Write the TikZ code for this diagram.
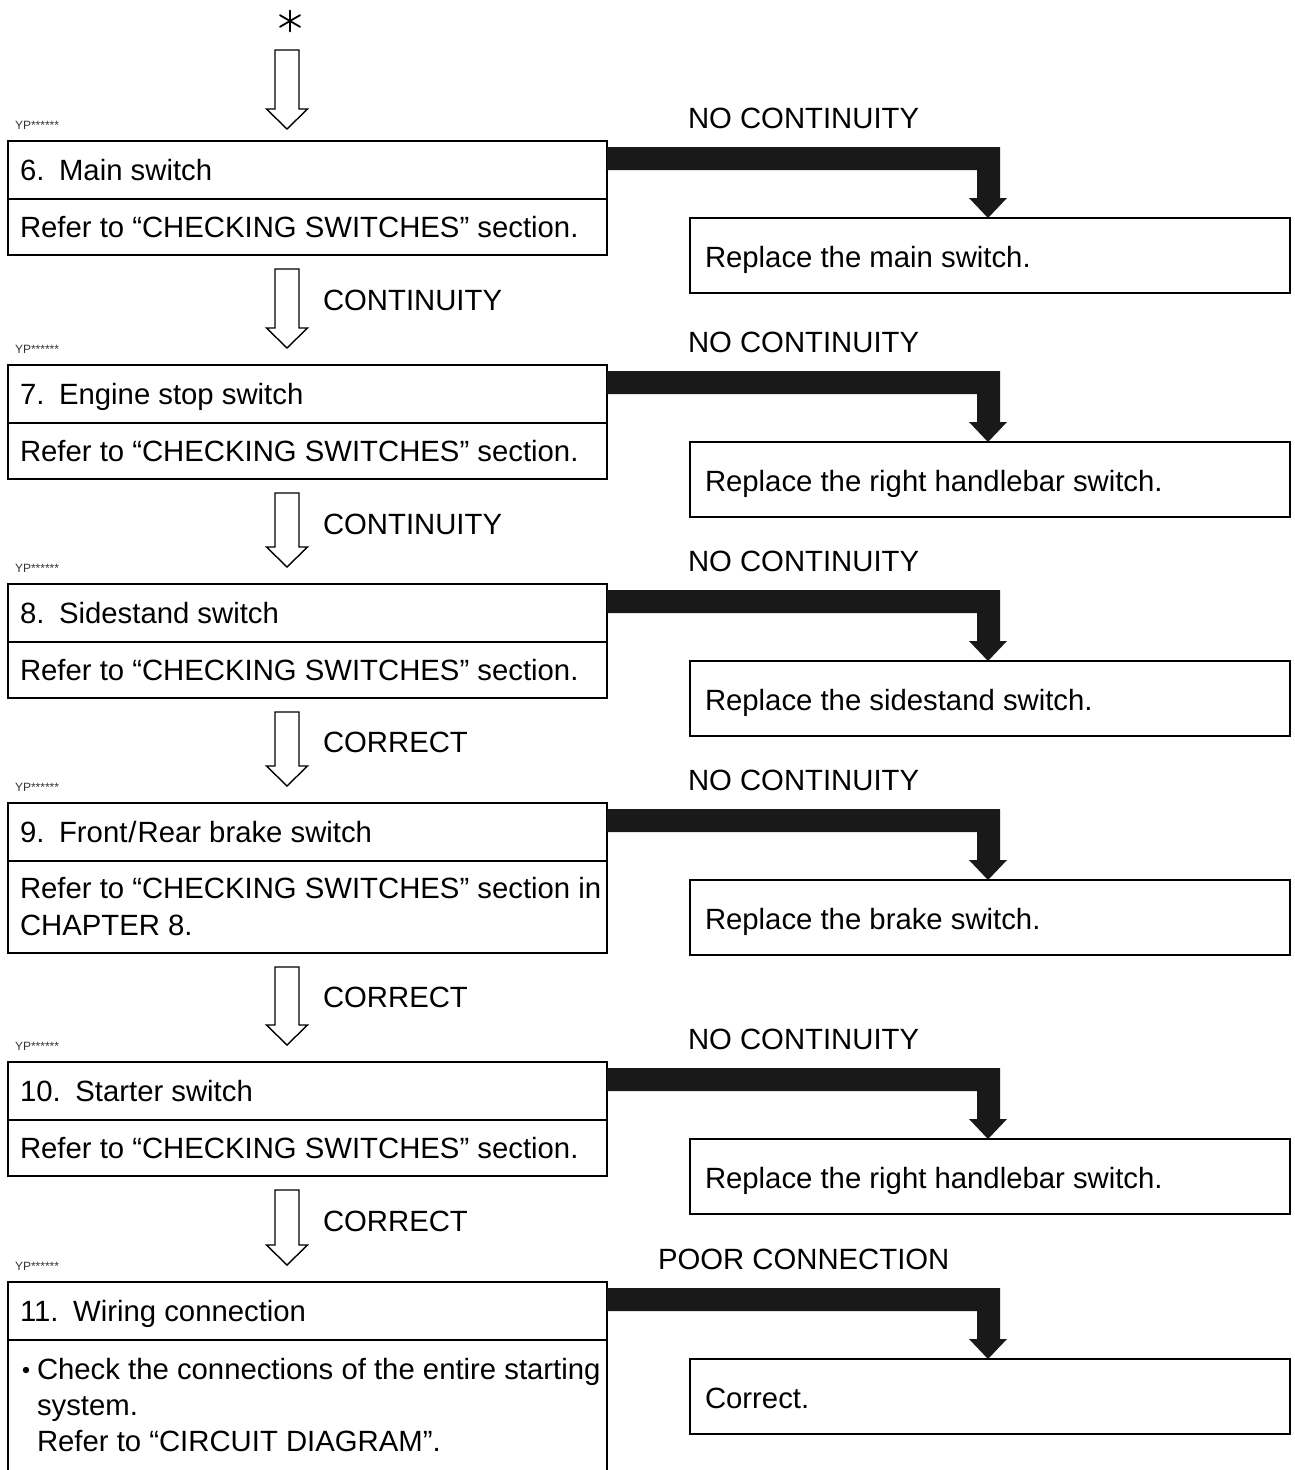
\documentclass[tikz,border=0pt]{standalone}
\usepackage{fontspec}
\setmainfont{Liberation Sans}
\usetikzlibrary{calc}
\tikzset{
  every node/.style={inner sep=0pt, outer sep=0pt},
  box/.style={draw, line width=2.8pt, anchor=north west, minimum width=599pt},
  rbox/.style={draw, line width=2.4pt, anchor=north west, minimum width=600pt, minimum height=75pt},
  txt/.style={anchor=base west, font=\fontsize{29.3}{35}\selectfont},
  yp/.style={anchor=west, font=\fontsize{12}{12}\selectfont, text=black!80},
  hollow/.style={draw, line width=1.4pt, line join=miter, fill=white},
  divider/.style={line width=1.3pt},
  thick arrow/.style={fill=black!90},
}
\newcommand{\hollowarr}[2]{%
  \draw[hollow] let \p1=(#1), \p2=(#2) in
    (\x2-12pt,\y1) -- (\x2-12pt,\y2+20pt) -- (\x2-20.5pt,\y2+20pt) -- (\x2,\y2)
    -- (\x2+20.5pt,\y2+20pt) -- (\x2+12pt,\y2+20pt) -- (\x2+12pt,\y1) -- cycle;}
\newcommand{\stage}[5]{%
  \node[box, minimum height=#3pt] (#1) at (8,#2) {};
  \draw[divider] ($(#1.north west)+(0,58)$) -- ($(#1.north east)+(0,58)$);
  \node[txt] (#1t) at ($(#1.north west)+(12,39)$) {#4};
  \node[yp] (#1yp) at ($(#1.north west)+(7,-16)$) {YP******};
  \node[rbox] (#1r) at ($(#1.north west)+(682,77)$) {};
  \node[txt] (#1rt) at ($(#1r.north west)+(15,49)$) {#5};
  \fill[thick arrow] let \p1=(#1.north east), \p2=(#1r.north west) in
    (\x1,\y1-6pt) -- (\x2+310pt,\y1-6pt) -- (\x2+310pt,\y2+20pt) -- (\x2+317pt,\y2+20pt)
    -- (\x2+298pt,\y2) -- (\x2+279pt,\y2+20pt) -- (\x2+287pt,\y2+20pt)
    -- (\x2+287pt,\y1-29pt) -- (\x1,\y1-29pt) -- cycle;}
\newcommand{\refsw}{Refer to “CHECKING SWITCHES” section}
\begin{document}
\begin{tikzpicture}[x=1pt,y=-1pt]
\useasboundingbox[fill=white] (0,0) rectangle (1295,1470);

% asterisk
\coordinate (ast) at (290,21);
\draw[line width=1.8pt, line cap=round]
  ($(ast)+(0,-10.5)$) -- ($(ast)+(0,10.5)$)
  ($(ast)+(-10,-5.8)$) -- ($(ast)+(10,5.8)$)
  ($(ast)+(-10,5.8)$) -- ($(ast)+(10,-5.8)$);

% stages
\stage{b6}{141}{114}{6.\hspace{0.5em}Main switch}{Replace the main switch.}
\node[txt] (b6l) at ($(b6.north west)+(12,96)$) {\refsw.};
\node[txt] (b6n) at ($(b6r.north west)+(-2,-90)$) {NO CONTINUITY};

\stage{b7}{365}{114}{7.\hspace{0.5em}Engine stop switch}{Replace the right handlebar switch.}
\node[txt] (b7l) at ($(b7.north west)+(12,96)$) {\refsw.};
\node[txt] (b7n) at ($(b7r.north west)+(-2,-90)$) {NO CONTINUITY};

\stage{b8}{584}{114}{8.\hspace{0.5em}Sidestand switch}{Replace the sidestand switch.}
\node[txt] (b8l) at ($(b8.north west)+(12,96)$) {\refsw.};
\node[txt] (b8n) at ($(b8r.north west)+(-2,-90)$) {NO CONTINUITY};

\stage{b9}{803}{150}{9.\hspace{0.5em}Front\kern1pt/\kern1ptRear brake switch}{Replace the brake switch.}
\node[txt] (b9l) at ($(b9.north west)+(12,95)$) {\refsw{} in};
\node[txt] (b9m) at ($(b9.north west)+(12,132)$) {CHAPTER 8.};
\node[txt] (b9n) at ($(b9r.north west)+(-2,-90)$) {NO CONTINUITY};

\stage{b10}{1062}{114}{10.\hspace{0.5em}Starter switch}{Replace the right handlebar switch.}
\node[txt] (b10l) at ($(b10.north west)+(12,96)$) {\refsw.};
\node[txt] (b10n) at ($(b10r.north west)+(-2,-90)$) {NO CONTINUITY};

\stage{b11}{1282}{200}{11.\hspace{0.5em}Wiring connection}{Correct.}
\fill (b11.north west) ++(18,88) circle[radius=3.2pt] coordinate (b11b);
\node[txt] (b11l) at ($(b11.north west)+(29,97)$) {Check the connections of the entire starting};
\node[txt] (b11m) at ($(b11.north west)+(29,133)$) {system.};
\node[txt] (b11o) at ($(b11.north west)+(29,169)$) {Refer to “CIRCUIT DIAGRAM”.};
\node[txt] (b11n) at ($(b11r.north west)+(-32,-90)$) {POOR CONNECTION};

% hollow arrows
\hollowarr{$(ast)+(0,29)$}{$(b6.north west)+(279,-12)$}
\hollowarr{$(b6.south west)+(279,14)$}{$(b7.north west)+(279,-17)$}
\hollowarr{$(b7.south west)+(279,14)$}{$(b8.north west)+(279,-17)$}
\hollowarr{$(b8.south west)+(279,14)$}{$(b9.north west)+(279,-17)$}
\hollowarr{$(b9.south west)+(279,14)$}{$(b10.north west)+(279,-17)$}
\hollowarr{$(b10.south west)+(279,14)$}{$(b11.north west)+(279,-17)$}

% result labels
\node[txt] (c6) at (323,310) {CONTINUITY};
\node[txt] (c7) at (323,534) {CONTINUITY};
\node[txt] (c8) at (323,752) {CORRECT};
\node[txt] (c9) at (323,1007) {CORRECT};
\node[txt] (c10) at (323,1231) {CORRECT};
\end{tikzpicture}
\end{document}
